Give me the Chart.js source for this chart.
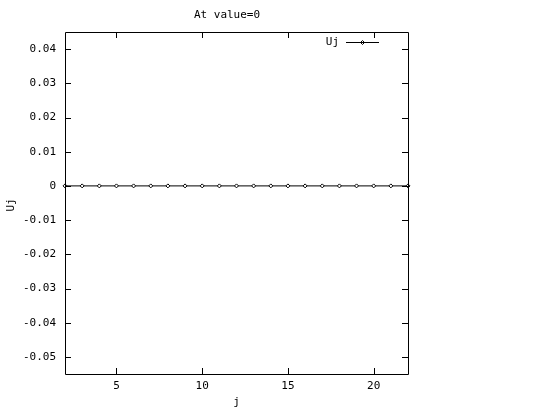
<!DOCTYPE html>
<html>
<head>
<meta charset="utf-8">
<script src="https://cdn.jsdelivr.net/npm/chart.js@4/dist/chart.umd.min.js"></script>
<style>
  html, body { margin: 0; padding: 0; background: #fff; }
  canvas { display: block; }
</style>
</head>
<body>
<canvas id="plot" width="544" height="408"></canvas>
<script>
// data
const jValues = [2, 3, 4, 5, 6, 7, 8, 9, 10, 11, 12, 13, 14, 15, 16, 17, 18, 19, 20, 21, 22];
const ujValues = [0, 0, 0, 0, 0, 0, 0, 0, 0, 0, 0, 0, 0, 0, 0, 0, 0, 0, 0, 0, 0];
const xTicks = [5, 10, 15, 20];
const yTicks = [-0.05, -0.04, -0.03, -0.02, -0.01, 0, 0.01, 0.02, 0.03, 0.04];
const yTickLabels = ['-0.05', '-0.04', '-0.03', '-0.02', '-0.01', '0', '0.01', '0.02', '0.03', '0.04'];

const FONT = '11px "DejaVu Sans Mono", monospace';

// gnuplot style frame, inward ticks, labels and key
const gnuplotFrame = {
  id: 'gnuplotFrame',
  afterDraw(chart) {
    const ctx = chart.ctx;
    const a = chart.chartArea;
    const xs = chart.scales.x, ys = chart.scales.y;
    const T = 6;
    ctx.save();
    ctx.strokeStyle = '#000';
    ctx.lineWidth = 1;
    ctx.beginPath();
    ctx.rect(Math.round(a.left) + 0.5, Math.round(a.top) + 0.5,
             Math.round(a.right - a.left), Math.round(a.bottom - a.top));
    xTicks.forEach(v => {
      const px = Math.round(xs.getPixelForValue(v)) + 0.5;
      ctx.moveTo(px, a.bottom); ctx.lineTo(px, a.bottom - T);
      ctx.moveTo(px, a.top); ctx.lineTo(px, a.top + T);
    });
    yTicks.forEach(v => {
      const py = Math.round(ys.getPixelForValue(v)) + 0.5;
      ctx.moveTo(a.left, py); ctx.lineTo(a.left + T, py);
      ctx.moveTo(a.right, py); ctx.lineTo(a.right - T, py);
    });
    ctx.stroke();

    ctx.fillStyle = '#000';
    ctx.font = FONT;
    ctx.textBaseline = 'middle';
    ctx.textAlign = 'right';
    yTicks.forEach((v, i) => {
      ctx.fillText(yTickLabels[i], a.left - 9, ys.getPixelForValue(v));
    });
    ctx.textAlign = 'center';
    xTicks.forEach(v => {
      ctx.fillText(String(v), xs.getPixelForValue(v), a.bottom + 12);
    });
    ctx.fillText('j', (a.left + a.right) / 2, a.bottom + 28);
    ctx.fillText('At value=0', 227, 15);

    ctx.save();
    ctx.translate(11, 205);
    ctx.rotate(-Math.PI / 2);
    ctx.fillText('Uj', 0, 0);
    ctx.restore();

    // key
    ctx.textAlign = 'right';
    ctx.fillText('Uj', 339, 42);
    ctx.beginPath();
    ctx.moveTo(346, 42.5); ctx.lineTo(379, 42.5);
    ctx.stroke();
    ctx.beginPath();
    ctx.moveTo(362.5, 40.5); ctx.lineTo(364.5, 42.5); ctx.lineTo(362.5, 44.5); ctx.lineTo(360.5, 42.5);
    ctx.closePath();
    ctx.stroke();
    ctx.restore();
  }
};

new Chart(document.getElementById('plot').getContext('2d'), {
  type: 'line',
  data: {
    labels: jValues,
    datasets: [{
      label: 'Uj',
      data: jValues.map((j, i) => ({ x: j, y: ujValues[i] })),
      borderColor: '#000',
      backgroundColor: '#fff',
      borderWidth: 1,
      pointStyle: 'rectRot',
      pointRadius: 2,
      pointBorderWidth: 1,
      pointBorderColor: '#000',
      clip: false,
      tension: 0
    }]
  },
  options: {
    responsive: false,
    animation: false,
    layout: { padding: { left: 65, top: 32, right: 136, bottom: 34 } },
    plugins: { legend: { display: false }, title: { display: false }, tooltip: { enabled: false } },
    scales: {
      x: { type: 'linear', min: 2, max: 22, display: false },
      y: { type: 'linear', min: -0.055, max: 0.045, display: false }
    }
  },
  plugins: [gnuplotFrame]
});
</script>
</body>
</html>
